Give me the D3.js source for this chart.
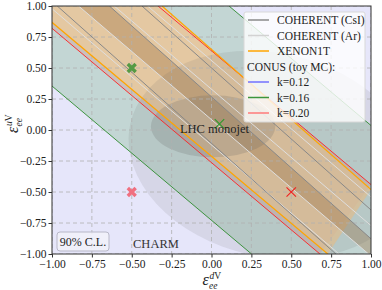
<!DOCTYPE html>
<html>
<head>
<meta charset="utf-8">
<script src="https://cdn.jsdelivr.net/npm/d3@7"></script>
<style>
  body { margin: 0; background: #fff; }
  svg { display: block; }
  svg text { font-family: "Liberation Serif", "DejaVu Serif", serif !important; }
</style>
</head>
<body>
<svg id="chart" width="382" height="290"></svg>
<script>
// NSI bounds in the (eps_dV, eps_uV) plane.
// each line is given by two points in data units: [[x1, y1], [x2, y2]]

const ticks = [-1, -0.75, -0.5, -0.25, 0, 0.25, 0.5, 0.75, 1];

const conusK016 = [[[-1.596, 1], [0.251, -1]], [[0.11, 1], [1.957, -1]]];
const conusK020 = [[[-1.166, 1], [0.68, -1]], [[-0.335, 1], [1.0, -0.44]]];
const xenonLines = [[[-1.122, 1], [0.729, -1]], [[-0.31, 1], [1.0, -0.48]]];
const csiLines = [
  [[-0.967, 1], [0.78, -1]],
  [[-0.64, 1], [1.107, -1]],
  [[-0.436, 1], [1.31, -1]],
];
const arLines = [
  [[-1.02, 1], [0.8, -1]],
  [[-0.833, 1], [0.985, -1]],
  [[-0.61, 1], [1.208, -1]],
  [[-0.4, 1], [1.418, -1]],
];
// dark stripe: between Ar line 1 and CsI line 1
const darkStripe = [arLines[1], csiLines[1]];

// LHC monojet: [cx, cy, rx, ry, shear]
const lhcOuter = [0.37, -0.2, 0.88, 0.84, -0.156];
const lhcInner = [0.01, 0.03, 0.39, 0.25, 0.0];

const markersThick = [
  { x: -0.5, y: 0.5, color: "#559a45" },
  { x: -0.5, y: -0.5, color: "#f07080" },
];
const markersThin = [
  { x: 0.05, y: 0.05, color: "#2e9a2e" },
  { x: 0.5, y: -0.5, color: "#f02020" },
];

const legendItems = [
  { text: "COHERENT (CsI)", color: "#8a8a8a" },
  { text: "COHERENT (Ar)", color: "#d2d2d2" },
  { text: "XENON1T", color: "#ffa500" },
  { text: "CONUS (toy MC):", color: null },
  { text: "k=0.12", color: "#7272ff" },
  { text: "k=0.16", color: "#3c963c" },
  { text: "k=0.20", color: "#ff7a7a" },
];

const plotLeft = 52, plotRight = 371, plotTop = 6, plotBottom = 254;

const svg = d3.select("#chart");
const x = d3.scaleLinear().domain([-1, 1]).range([plotLeft, plotRight]);
const y = d3.scaleLinear().domain([-1, 1]).range([plotBottom, plotTop]);

svg.append("defs")
  .append("clipPath")
  .attr("id", "plot-clip")
  .append("rect")
  .attr("x", plotLeft).attr("y", plotTop)
  .attr("width", plotRight - plotLeft).attr("height", plotBottom - plotTop);

const plot = svg.append("g").attr("clip-path", "url(#plot-clip)");

const bandPath = (a, b) => {
  const pts = [a[0], a[1], b[1], b[0]];
  return "M" + pts.map((p) => x(p[0]) + "," + y(p[1])).join("L") + "Z";
};

// CHARM background
plot.append("rect")
  .attr("x", plotLeft).attr("y", plotTop)
  .attr("width", plotRight - plotLeft).attr("height", plotBottom - plotTop)
  .attr("fill", "#e6e6fa");

// CONUS k=0.16 band
plot.append("path")
  .attr("d", bandPath(conusK016[0], conusK016[1]))
  .attr("fill", "green").attr("fill-opacity", 0.15);

// CONUS k=0.20 band
plot.append("path")
  .attr("d", bandPath(conusK020[0], conusK020[1]))
  .attr("fill", "red").attr("fill-opacity", 0.1);

// XENON1T band
plot.append("path")
  .attr("d", bandPath(xenonLines[0], xenonLines[1]))
  .attr("fill", "#ecca98").attr("fill-opacity", 0.76);

plot.append("path")
  .attr("d", bandPath(darkStripe[0], darkStripe[1]))
  .attr("fill", "#9a7040").attr("fill-opacity", 0.36);

// LHC monojet ellipses
const drawEllipse = (e, opacity) => {
  const skew = (Math.atan(-e[4] * (x(1) - x(0)) / (y(0) - y(1))) * 180) / Math.PI;
  plot.append("ellipse")
    .attr("cx", 0).attr("cy", 0)
    .attr("rx", x(e[2]) - x(0))
    .attr("ry", y(0) - y(e[3]))
    .attr("transform", `translate(${x(e[0])},${y(e[1])}) skewX(${skew})`)
    .attr("fill", "#606060")
    .attr("fill-opacity", opacity);
};
drawEllipse(lhcOuter, 0.12);
drawEllipse(lhcInner, 0.2);

// grid
const grid = plot.append("g")
  .attr("stroke", "#b0b0b0")
  .attr("stroke-width", 0.8)
  .attr("stroke-dasharray", "4,3");
ticks.forEach((t) => {
  grid.append("line")
    .attr("x1", x(t)).attr("x2", x(t))
    .attr("y1", plotTop).attr("y2", plotBottom);
  grid.append("line")
    .attr("x1", plotLeft).attr("x2", plotRight)
    .attr("y1", y(t)).attr("y2", y(t));
});

const line = d3.line().x((d) => x(d[0])).y((d) => y(d[1]));

const drawLines = (set, color, width) => {
  set.forEach((l) => {
    plot.append("path")
      .attr("d", line(l))
      .attr("fill", "none")
      .attr("stroke", color)
      .attr("stroke-width", width);
  });
};
drawLines(arLines, "#dedede", 1);
drawLines(csiLines, "#888888", 1);
drawLines(conusK016, "#2e8b2e", 0.9);
drawLines(conusK020, "#ff2020", 0.9);
drawLines(xenonLines, "#ffa500", 1.2);

// X markers
const thickX = d3.symbol().type(d3.symbolX).size(42);
const thinX = d3.symbol().type(d3.symbolX).size(60);
markersThick.forEach((m) => {
  plot.append("path")
    .attr("d", thickX())
    .attr("transform", `translate(${x(m.x)},${y(m.y)})`)
    .attr("fill", "none")
    .attr("stroke", m.color)
    .attr("stroke-width", 3.4);
});
markersThin.forEach((m) => {
  plot.append("path")
    .attr("d", thinX())
    .attr("transform", `translate(${x(m.x)},${y(m.y)})`)
    .attr("fill", "none")
    .attr("stroke", m.color)
    .attr("stroke-width", 1.1);
});

// labels inside plot
plot.append("text")
  .attr("x", x(-0.198)).attr("y", y(-0.024))
  .attr("font-size", 12.5).attr("fill", "#222")
  .text("LHC monojet");

plot.append("text")
  .attr("x", x(-0.492)).attr("y", y(-0.952))
  .attr("font-size", 12.5).attr("fill", "#333")
  .text("CHARM");

svg.append("rect")
  .attr("x", 57).attr("y", 232)
  .attr("width", 52).attr("height", 19)
  .attr("rx", 3)
  .attr("fill", "#f2f2fa").attr("fill-opacity", 0.8)
  .attr("stroke", "#b8b8c8").attr("stroke-width", 1);
svg.append("text")
  .attr("x", 83).attr("y", 246)
  .attr("text-anchor", "middle")
  .attr("font-size", 12).attr("fill", "#222")
  .text("90% C.L.");

// axes
const xAxis = d3.axisBottom(x).tickValues(ticks).tickFormat(d3.format(".2f")).tickSize(3.5).tickPadding(2);
const yAxis = d3.axisLeft(y).tickValues(ticks).tickFormat(d3.format(".2f")).tickSize(3.5).tickPadding(2);

const gx = svg.append("g")
  .attr("transform", "translate(0," + plotBottom + ")")
  .call(xAxis);
const gy = svg.append("g")
  .attr("transform", "translate(" + plotLeft + ",0)")
  .call(yAxis);

[gx, gy].forEach((g) => {
  g.select(".domain").remove();
  g.selectAll("line").attr("stroke", "#333");
  g.selectAll("text")
    .attr("font-size", 11.5)
    .attr("fill", "#222");
});

svg.append("rect")
  .attr("x", plotLeft).attr("y", plotTop)
  .attr("width", plotRight - plotLeft).attr("height", plotBottom - plotTop)
  .attr("fill", "none")
  .attr("stroke", "#333")
  .attr("stroke-width", 1);

// axis titles
const epsLabel = (g, sup) => {
  g.append("text").attr("x", -9).attr("y", 0)
    .attr("font-size", 16).attr("font-style", "italic").attr("fill", "#222")
    .text("ε");
  const s = g.append("text").attr("x", -2).attr("y", -6)
    .attr("font-size", 9.5).attr("fill", "#222");
  s.append("tspan").attr("font-style", "italic").text(sup);
  s.append("tspan").text("V");
  g.append("text").attr("x", -2.5).attr("y", 4)
    .attr("font-size", 9.5).attr("font-style", "italic").attr("fill", "#222")
    .text("ee");
};
epsLabel(svg.append("g").attr("transform", "translate(211.5,284.5)"), "d");
epsLabel(svg.append("g").attr("transform", "translate(18,124) rotate(-90)"), "u");

// legend
const legend = svg.append("g");
legend.append("rect")
  .attr("x", 244).attr("y", 12)
  .attr("width", 121).attr("height", 110)
  .attr("rx", 2)
  .attr("fill", "#ffffff").attr("fill-opacity", 0.8)
  .attr("stroke", "#d8d8d8");

legendItems.forEach((d, i) => {
  const cy = 20 + i * 15.5;
  if (d.color) {
    legend.append("line")
      .attr("x1", 248).attr("x2", 269)
      .attr("y1", cy).attr("y2", cy)
      .attr("stroke", d.color).attr("stroke-width", 1.5);
  }
  legend.append("text")
    .attr("x", d.color ? 277 : 247)
    .attr("y", cy + 4)
    .attr("font-size", 11.5).attr("fill", "#222")
    .text(d.text);
});
</script>
</body>
</html>
